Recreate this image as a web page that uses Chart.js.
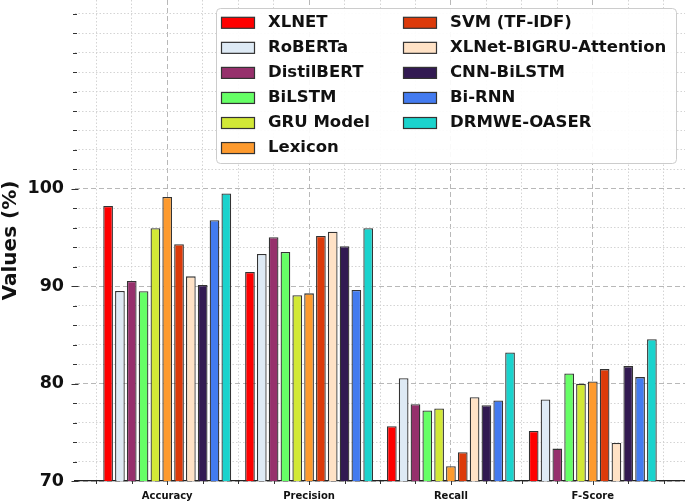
<!DOCTYPE html>
<html><head><meta charset="utf-8">
<script src="https://cdn.jsdelivr.net/npm/chart.js@4.4.1/dist/chart.umd.min.js"></script>
<style>html,body{margin:0;padding:0;background:#fff;overflow:hidden}#wrap{width:685px;height:503px;position:relative}</style>
</head><body><div id="wrap"><canvas id="c"></canvas></div>
<script>
const categories = ['Accuracy', 'Precision', 'Recall', 'F-Score'];
const models = ['XLNET', 'RoBERTa', 'DistilBERT', 'BiLSTM', 'GRU Model', 'Lexicon',
  'SVM (TF-IDF)', 'XLNet-BIGRU-Attention', 'CNN-BiLSTM', 'Bi-RNN', 'DRMWE-OASER'];
const colors = ['#ff0000', '#deeaf5', '#96306c', '#66ff66', '#d2e836', '#fd9a2e',
  '#dc3a0a', '#ffe2c6', '#321a52', '#437bf0', '#1ad3cd'];

const xlnet      = [98.25, 91.46, 75.63, 75.14];
const roberta    = [89.51, 93.32, 80.56, 78.37];
const distilbert = [90.54, 95.03, 77.89, 73.33];
const bilstm     = [89.50, 93.52, 77.24, 81.04];
const gruModel   = [95.96, 89.07, 77.45, 79.98];
const lexicon    = [99.18, 89.27, 71.51, 80.22];
const svmTfidf   = [94.31, 95.17, 72.95, 81.49];
const xlnetBigru = [91.02, 95.61, 78.61, 73.91];
const cnnBilstm  = [90.13, 94.11, 77.79, 81.80];
const biRnn      = [96.78, 89.61, 78.27, 80.67];
const drmwe      = [99.52, 95.96, 83.20, 84.57];
const series = [xlnet, roberta, distilbert, bilstm, gruModel, lexicon, svmTfidf, xlnetBigru, cnnBilstm, biRnn, drmwe];

const yMajorTicks = [70, 80, 90, 100];
const xMajorTicks = [0, 1, 2, 3];
const xMinorTicks = [-0.5, -0.25, 0.25, 0.5, 0.75, 1.25, 1.5, 1.75, 2.25, 2.5, 2.75, 3.25, 3.5];

Chart.defaults.font.family = '"DejaVu Sans", sans-serif';

const tickMarks = {
  id: 'tickMarks',
  beforeDatasetsDraw(chart) {
    const {ctx, chartArea, scales} = chart;
    ctx.save();
    ctx.strokeStyle = '#333';
    ctx.lineWidth = 1;
    ctx.beginPath();
    scales.y.ticks.forEach(t => {
      const py = Math.round(scales.y.getPixelForValue(t.value)) + 0.5;
      const major = yMajorTicks.includes(t.value);
      const h = major ? 3.5 : 2;
      ctx.moveTo(chartArea.left - h, py);
      ctx.lineTo(chartArea.left + h, py);
    });
    [['x', 4], ['xMinor', 3]].forEach(([id, len]) => {
      scales[id].ticks.forEach(t => {
        const px = Math.round(scales[id].getPixelForValue(t.value)) + 0.5;
        ctx.moveTo(px, chartArea.bottom);
        ctx.lineTo(px, chartArea.bottom + len);
      });
    });
    ctx.stroke();
    ctx.restore();
  }
};

const boxLegend = {
  id: 'boxLegend',
  afterDraw(chart) {
    const ctx = chart.ctx;
    ctx.save();
    const bx = 216.5, by = 8.5, bw = 460, bh = 155, r = 4;
    ctx.beginPath();
    ctx.moveTo(bx + r, by);
    ctx.arcTo(bx + bw, by, bx + bw, by + bh, r);
    ctx.arcTo(bx + bw, by + bh, bx, by + bh, r);
    ctx.arcTo(bx, by + bh, bx, by, r);
    ctx.arcTo(bx, by, bx + bw, by, r);
    ctx.closePath();
    ctx.fillStyle = 'rgba(255,255,255,0.92)';
    ctx.fill();
    ctx.strokeStyle = '#cccccc';
    ctx.lineWidth = 1;
    ctx.stroke();
    ctx.font = 'bold 16.5px "DejaVu Sans"';
    ctx.textBaseline = 'middle';
    ctx.textAlign = 'left';
    chart.data.datasets.forEach((ds, i) => {
      const col = i < 6 ? 0 : 1;
      const row = i < 6 ? i : i - 6;
      const cy = 22.8 + row * 25.05;
      const sx = col ? 403.5 : 221.5;
      ctx.fillStyle = ds.backgroundColor;
      ctx.fillRect(sx, cy - 5.5, 33, 11);
      ctx.strokeStyle = '#333';
      ctx.lineWidth = 1.2;
      ctx.strokeRect(sx, cy - 5.5, 33, 11);
      ctx.fillStyle = '#111';
      ctx.fillText(ds.label, col ? 450 : 268, cy);
    });
    ctx.restore();
  }
};

new Chart(document.getElementById('c'), {
  type: 'bar',
  data: {
    datasets: models.map((m, k) => ({
      label: m,
      data: series[k].map((v, i) => ({x: i, y: v})),
      backgroundColor: colors[k],
      borderColor: '#333',
      borderWidth: 1.3,
      borderSkipped: false,
      categoryPercentage: 11 / 12,
      barPercentage: 0.82,
      xAxisID: 'x',
      yAxisID: 'y'
    }))
  },
  options: {
    responsive: true,
    maintainAspectRatio: false,
    animation: false,
    layout: {padding: 0},
    plugins: {legend: {display: false}, tooltip: {enabled: false}},
    scales: {
      x: {
        type: 'linear', position: 'bottom', min: -0.65, max: 3.65,
        offset: false,
        afterBuildTicks: s => { s.ticks = xMajorTicks.map(v => ({value: v})); },
        afterFit: s => { s.height = 22; s.paddingLeft = 0; s.paddingRight = 0; },
        ticks: {
          callback: (v, i) => categories[i] ?? '',
          font: {weight: 'bold', size: 10}, color: '#111', padding: 9,
          autoSkip: false, maxRotation: 0
        },
        grid: {color: '#b0b0b0', lineWidth: 0.9, drawTicks: false, offset: false},
        border: {display: true, color: '#222', width: 1.3, dash: [5, 3]}
      },
      xMinor: {
        type: 'linear', position: 'bottom', min: -0.65, max: 3.65,
        offset: false,
        afterBuildTicks: s => { s.ticks = xMinorTicks.map(v => ({value: v})); },
        afterFit: s => { s.height = 0; s.paddingLeft = 0; s.paddingRight = 0; },
        ticks: {display: false},
        grid: {color: '#cfcfcf', lineWidth: 0.9, drawTicks: false, offset: false},
        border: {display: false, dash: [1.5, 2]}
      },
      y: {
        type: 'linear', min: 70, max: 119.4,
        afterFit: s => { s.width = 75; s.paddingTop = 0; s.paddingBottom = 0; },
        ticks: {
          stepSize: 2, includeBounds: false, autoSkip: false,
          callback: v => yMajorTicks.includes(v) ? String(v) : '',
          font: {weight: 'bold', size: 17.5}, color: '#111', padding: 11
        },
        grid: {
          color: c => (c.tick && yMajorTicks.includes(c.tick.value)) ? '#b0b0b0' : '#cfcfcf',
          lineWidth: 0.9, drawTicks: false
        },
        border: {
          display: false,
          dash: c => (c.tick && yMajorTicks.includes(c.tick.value)) ? [5, 3] : [1.5, 2]
        },
        title: {
          display: true, text: 'Values (%)', color: '#111',
          font: {weight: 'bold', size: 20, lineHeight: 1.05}, padding: 0
        }
      }
    }
  },
  plugins: [tickMarks, boxLegend]
});
</script>
</body></html>
